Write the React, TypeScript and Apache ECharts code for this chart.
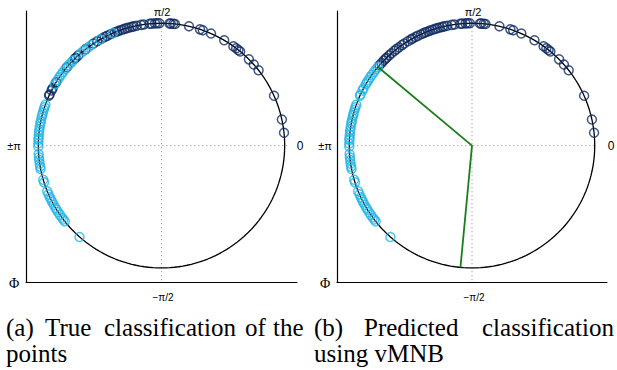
import React, { useEffect, useRef } from "react";
import * as echarts from "echarts";

// Angles (degrees) of the observed points on the circle
const angles: number[] = [
  6, 12.3, 24, 38, 41.5, 44.8, 50.3, 51.4, 52.7, 54.3, 59.4, 66.3, 70.4, 71.8, 77.1, 83.7, 84.5, 85.7, 86.3,
  91, 92, 93, 94.6, 95.5, 98.2, 99.5, 101.6, 103, 104, 105.2, 106.3, 107.5, 108.7, 110, 111.1, 112.2,
  113.2, 114.5, 116.3, 117.5, 118.9, 119.8, 121.5, 123.5, 124.8, 126.5, 128, 129.3, 131, 132.5, 134.1, 134.8,
  136, 137.5, 139, 140.2, 141.4, 143.1, 144.6, 146, 147.6, 148.8, 150, 152.1, 153.2, 155.3, 155.9,
  160.5, 161.8, 163, 164.5, 165.7, 167, 168.5, 169.6, 171, 172.5, 173.6, 175, 176.5, 177.4, 179, 180.5,
  184, 185.5, 186.8, 188.5, 189.9, 191, 196.2, 197.5, 201.9, 203.5, 205, 206.2, 207.5, 208.9, 210.5,
  211.6, 213, 214.5, 216, 217.2, 218.3, 228.3,
];

// True class of each point (0 = dark, 1 = light)
const trueClass: number[] = [
  0, 0, 0, 0, 0, 0, 0, 0, 0, 0, 0, 0, 0, 0, 0, 0, 0, 0, 0,
  0, 0, 0, 0, 0, 0, 0, 0, 0, 0, 0, 0, 0, 0, 0, 0, 0,
  1, 0, 0, 0, 0, 1, 0, 0, 1, 1, 0, 1, 1, 0, 0, 0,
  1, 1, 1, 0, 1, 1, 1, 1, 1, 0, 1, 0, 0, 0, 0,
  1, 1, 1, 1, 1, 1, 1, 1, 1, 1, 1, 1, 1, 1, 1, 1,
  1, 1, 1, 1, 1, 1, 1, 1, 1, 1, 1, 1, 1, 1, 1,
  1, 1, 1, 1, 1, 1, 1,
];

// Predicted class of each point (vMNB)
const predClass: number[] = [
  0, 0, 0, 0, 0, 0, 0, 0, 0, 0, 0, 0, 0, 0, 0, 0, 0, 0, 0,
  0, 0, 0, 0, 0, 0, 0, 0, 0, 0, 0, 0, 0, 0, 0, 0, 0,
  0, 0, 0, 0, 0, 0, 0, 0, 0, 0, 0, 0, 0, 0, 0, 0,
  0, 0, 0, 1, 1, 1, 1, 1, 1, 1, 1, 1, 1, 1, 1,
  1, 1, 1, 1, 1, 1, 1, 1, 1, 1, 1, 1, 1, 1, 1, 1,
  1, 1, 1, 1, 1, 1, 1, 1, 1, 1, 1, 1, 1, 1, 1,
  1, 1, 1, 1, 1, 1, 1,
];

// Decision boundary angles (degrees) for panel (b)
const boundaryAngles: number[] = [140, 264.6];

// Tick / angle labels
const topLabel = "π/2";
const rightLabel = "0";
const leftLabel = "±π";
const bottomLabel = "−π/2";
const axisName = "Φ";

const NAVY = "#0e2a64";
const CYAN = "#22b5e6";
const GREEN = "#1a7f1a";

const rad = (d: number) => (d * Math.PI) / 180;
const pt = (d: number) => [Math.cos(rad(d)), Math.sin(rad(d))];

export default function App() {
  const ref = useRef<HTMLDivElement>(null);
  useEffect(() => {
    document.body.style.margin = "0";
    const chart = echarts.init(ref.current!, undefined, { renderer: "svg" });

    const circle: number[][] = [];
    for (let a = 0; a <= 360; a += 2) circle.push(pt(a));

    const panel = (gi: number, classes: number[]) => {
      const navy = angles.filter((_, i) => classes[i] === 0).map(pt);
      const cyan = angles.filter((_, i) => classes[i] === 1).map(pt);
      const base = { xAxisIndex: gi, yAxisIndex: gi, silent: true };
      const list: any[] = [
        {
          ...base, type: "line", data: [[-1, 0], [1.02, 0]], symbol: "none", z: 1,
          lineStyle: { color: "#8a8a8a", width: 1, type: [1, 3] },
        },
        {
          ...base, type: "line", data: [[0, 1], [0, -1.115]], symbol: "none", z: 1,
          lineStyle: { color: "#8a8a8a", width: 1, type: [1, 3] },
        },
        {
          ...base, type: "line", data: circle, symbol: "none", z: 2,
          lineStyle: { color: "#000", width: 1.3 },
        },
        {
          ...base, type: "scatter", data: navy, symbol: "circle", symbolSize: 9, z: 3,
          itemStyle: { color: "rgba(0,0,0,0)", borderColor: NAVY, borderWidth: 1.5 },
        },
        {
          ...base, type: "scatter", data: cyan, symbol: "circle", symbolSize: 9, z: 4,
          itemStyle: { color: "rgba(0,0,0,0)", borderColor: CYAN, borderWidth: 1.5 },
        },
      ];
      return list;
    };

    const series: any[] = [...panel(0, trueClass), ...panel(1, predClass)];
    series.push({
      xAxisIndex: 1, yAxisIndex: 1, silent: true, type: "line", z: 6, symbol: "none",
      data: [pt(boundaryAngles[0]), [0, 0], pt(boundaryAngles[1])],
      lineStyle: { color: GREEN, width: 1.8 },
    });

    const axisCommon = {
      type: "value",
      axisLine: { show: true, onZero: false, lineStyle: { color: "#000", width: 1.2 } },
      axisTick: { show: false },
      axisLabel: { show: false },
      splitLine: { show: false },
    };

    const labelFont = '11px "Liberation Sans", Arial, sans-serif';
    const texts: any[] = [];
    [0, 311].forEach((dx) => {
      texts.push(
        { type: "text", x: 162 + dx, y: 12, style: { text: topLabel, font: labelFont, fill: "#000", align: "center", verticalAlign: "middle" } },
        { type: "text", x: 300 + dx, y: 146, style: { text: rightLabel, font: '12px "Liberation Sans", Arial, sans-serif', fill: "#000", align: "center", verticalAlign: "middle" } },
        { type: "text", x: 14 + dx, y: 146, style: { text: leftLabel, font: labelFont, fill: "#000", align: "center", verticalAlign: "middle" } },
        { type: "text", x: 163 + dx, y: 297, style: { text: bottomLabel, font: '10px "Liberation Sans", Arial, sans-serif', fill: "#000", align: "center", verticalAlign: "middle" } },
        { type: "text", x: 14 + dx, y: 283, style: { text: axisName, font: '14px "Liberation Serif", serif', fill: "#000", align: "center", verticalAlign: "middle" } },
      );
    });

    const capFont = '25px "Liberation Serif", "Times New Roman", serif';
    const cap = (text: string, x: number, y: number) => ({
      type: "text", x, y, style: { text, font: capFont, fill: "#000", align: "left", verticalAlign: "middle" },
    });
    texts.push(
      cap("(a)", 6, 327), cap("True", 45, 327), cap("classification", 104, 327), cap("of", 245, 327), cap("the", 273, 327),
      cap("points", 6, 353),
      cap("(b)", 314, 327), cap("Predicted", 364, 327), cap("classification", 482, 327),
      cap("using vMNB", 314, 353),
    );

    chart.setOption({
      animation: false,
      backgroundColor: "#fff",
      grid: [
        { left: 26, top: 11, width: 271, height: 271 },
        { left: 337, top: 11, width: 270, height: 271 },
      ],
      xAxis: [
        { ...axisCommon, gridIndex: 0, min: -1.1, max: 1.1, position: "bottom" },
        { ...axisCommon, gridIndex: 1, min: -1.1, max: 1.1, position: "bottom" },
      ],
      yAxis: [
        { ...axisCommon, gridIndex: 0, min: -1.115, max: 1.1, position: "left" },
        { ...axisCommon, gridIndex: 1, min: -1.115, max: 1.1, position: "left" },
      ],
      series,
      graphic: texts,
    });
    return () => chart.dispose();
  }, []);
  return <div ref={ref} style={{ width: 617, height: 370 }} />;
}
